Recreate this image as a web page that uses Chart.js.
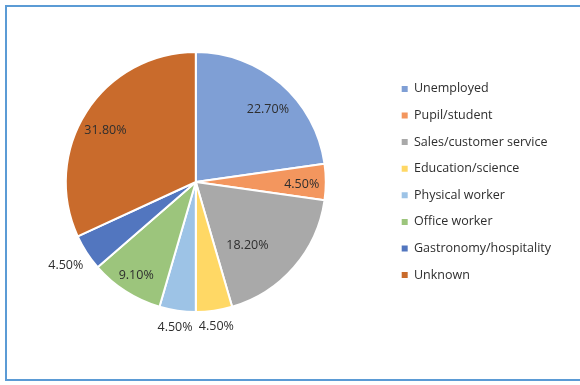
<!DOCTYPE html>
<html>
<head>
<meta charset="utf-8">
<script src="https://cdn.jsdelivr.net/npm/chart.js@4.4.1/dist/chart.umd.min.js"></script>
<style>
  body { margin: 0; background: #fff; }
  #wrap { position: relative; width: 580px; height: 385px; overflow: hidden; }
  #frame {
    position: absolute; left: 5px; top: 5px; width: 620px; height: 376px;
    border: 2px solid #5b9bd5; box-sizing: border-box; pointer-events: none;
  }
  canvas { position: absolute; left: 0; top: 0; }
</style>
</head>
<body>
<div id="wrap">
  <canvas id="pieChart" width="580" height="385"></canvas>
  <div id="frame"></div>
</div>
<script>
// occupation shares (percent)
const categories = [
    'Unemployed', 'Pupil/student', 'Sales/customer service', 'Education/science',
    'Physical worker', 'Office worker', 'Gastronomy/hospitality', 'Unknown'
];
const shares = [22.7, 4.5, 18.2, 4.5, 4.5, 9.1, 4.5, 31.8];

const sliceColors = ['#7f9fd5', '#f3965e', '#a9a9a9', '#ffd865', '#9dc3e6', '#9cc57c', '#5276bf', '#c96b2c'];
// value label placement: fraction of the radius, and a nudge (degrees) off the slice middle
const labelRadius = [0.785, 0.815, 0.63, 1.12, 1.13, 0.85, 1.19, 0.80];
const labelTurn = [4, 1.5, 10, 0, 0, 0, 0, -3];

const FONT = '"Open Sans", "DejaVu Sans", sans-serif';
const FONT_SIZE = 12.5;
const TEXT_COLOR = '#2e2e2e';

const valueLabels = {
    id: 'valueLabels',
    afterDatasetsDraw(chart) {
        const ctx = chart.ctx;
        const meta = chart.getDatasetMeta(0);
        ctx.save();
        ctx.font = FONT_SIZE + 'px ' + FONT;
        ctx.fillStyle = TEXT_COLOR;
        ctx.textAlign = 'center';
        ctx.textBaseline = 'middle';
        meta.data.forEach((arc, i) => {
            const p = arc.getProps(['x', 'y', 'startAngle', 'endAngle', 'outerRadius'], true);
            const mid = (p.startAngle + p.endAngle) / 2 + labelTurn[i] * Math.PI / 180;
            const r = p.outerRadius * labelRadius[i];
            const text = shares[i].toFixed(2) + '%';
            ctx.fillText(text, p.x + Math.cos(mid) * r, p.y + Math.sin(mid) * r);
        });
        ctx.restore();
    }
};

const baseLabels = Chart.overrides.pie.plugins.legend.labels.generateLabels;

new Chart(document.getElementById('pieChart'), {
    type: 'pie',
    data: {
        labels: categories,
        datasets: [{
            data: shares,
            backgroundColor: sliceColors,
            borderColor: '#ffffff',
            borderWidth: 2
        }]
    },
    options: {
        responsive: false,
        animation: false,
        layout: { padding: { top: 51, bottom: 72, left: 4, right: 19 } },
        plugins: {
            tooltip: { enabled: false },
            legend: {
                position: 'right',
                labels: {
                    boxWidth: 6,
                    boxHeight: 6,
                    padding: 14.1,
                    color: TEXT_COLOR,
                    font: { family: FONT, size: FONT_SIZE },
                    generateLabels: chart => baseLabels(chart).map(l => ({ ...l, lineWidth: 0, strokeStyle: 'transparent' }))
                }
            }
        }
    },
    plugins: [valueLabels]
});
</script>
</body>
</html>
